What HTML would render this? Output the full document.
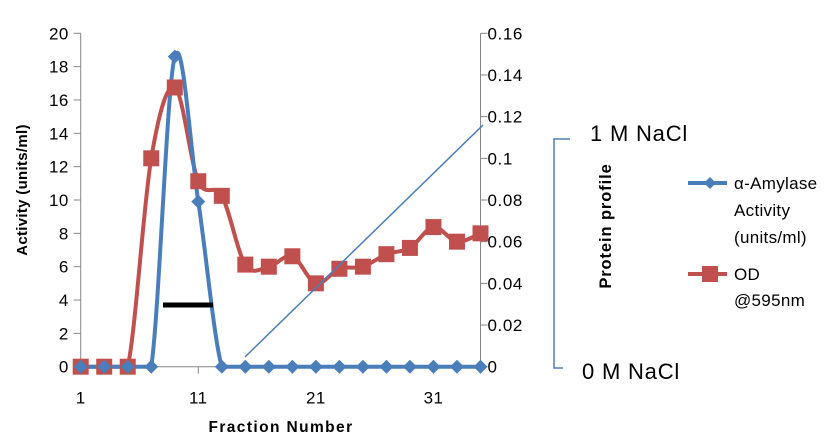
<!DOCTYPE html>
<html><head><meta charset="utf-8"><style>
html,body{margin:0;padding:0;background:#fff;}
svg{display:block;font-family:"Liberation Sans",Calibri,sans-serif;}
</style></head><body>
<svg id="chart" width="836" height="441" viewBox="0 0 836 441" xmlns="http://www.w3.org/2000/svg">
<g id="axes"></g>
<g id="series"></g>
<line x1="163" y1="305" x2="213" y2="305" stroke="#000" stroke-width="5"/>
<line x1="245" y1="357" x2="483" y2="125" stroke="#4a7ebb" stroke-width="1.5"/>
<text transform="translate(27,190) rotate(-90)" text-anchor="middle" font-size="15" font-weight="bold" letter-spacing="0.3">Activity (units/ml)</text>
<text x="281" y="432" text-anchor="middle" font-size="15.5" font-weight="bold" letter-spacing="1.4">Fraction Number</text>
<text transform="translate(611,226) rotate(-90)" text-anchor="middle" font-size="16.5" font-weight="bold" letter-spacing="0.9">Protein profile</text>
<path d="M570,139 H554 V368 H563" fill="none" stroke="#4a7ebb" stroke-width="1.5"/>
<text x="590" y="141" font-size="22" letter-spacing="0.8">1 M NaCl</text>
<text x="582" y="379" font-size="22" letter-spacing="0.8">0 M NaCl</text>
<g>
<line x1="688" y1="183" x2="727" y2="183" stroke="#4a7ebb" stroke-width="4"/>
<path d="M710,177 L716,183 L710,189 L704,183Z" fill="#4a7ebb"/>
<text font-size="17" letter-spacing="0.3"><tspan x="734" y="189">α-Amylase</tspan><tspan x="734" y="216">Activity</tspan><tspan x="734" y="243">(units/ml)</tspan></text>
<line x1="688" y1="274" x2="727" y2="274" stroke="#c0504d" stroke-width="4"/>
<rect x="702" y="266" width="16" height="16" fill="#c0504d"/>
<text font-size="17" letter-spacing="0.3"><tspan x="734" y="280">OD</tspan><tspan x="734" y="306">@595nm</tspan></text>
</g>
</svg>
<script>
const fractions=[1,3,5,7,9,11,13,15,17,19,21,23,25,27,29,31,33,35];
const activity=[0,0,0,0,18.6,9.9,0,0,0,0,0,0,0,0,0,0,0,0];
const od=[0,0,0,0.1,0.134,0.089,0.082,0.049,0.048,0.053,0.040,0.047,0.048,0.054,0.057,0.067,0.060,0.064];
const leftTicks=[0,2,4,6,8,10,12,14,16,18,20];
const rightTicks=[0,0.02,0.04,0.06,0.08,0.1,0.12,0.14,0.16];
const xTickLabels=[1,11,21,31];

const X0=80.7,X1=480.5,Y0=366.7,Y1=33.3;
const xs=f=>X0+(f-1)/34*(X1-X0);
const yL=v=>Y0-v/20*(Y0-Y1);
const yR=v=>Y0-v/0.16*(Y0-Y1);
const NS='http://www.w3.org/2000/svg';
function mk(tag,attrs,parent){const e=document.createElementNS(NS,tag);for(const k in attrs)e.setAttribute(k,attrs[k]);parent.appendChild(e);return e;}
const axes=document.getElementById('axes'),ser=document.getElementById('series');

let e=mk('line',{x1:X0,y1:Y1,x2:X0,y2:Y0,stroke:'#868686'},axes);


e=mk('line',{x1:X1,y1:Y1,x2:X1,y2:Y0,stroke:'#868686'},axes);


e=mk('line',{x1:X0,y1:Y0,x2:X1,y2:Y0,stroke:'#868686'},axes);


leftTicks.forEach(v=>{const y=yL(v);mk('line',{x1:X0-7,y1:y,x2:X0,y2:y,stroke:'#868686'},axes);
 const t=mk('text',{x:X0-12,y:y+6,'text-anchor':'end','font-size':'17','letter-spacing':'0.4'},axes);t.textContent=v;
 
 });
rightTicks.forEach(v=>{const y=yR(v);mk('line',{x1:X1,y1:y,x2:X1+7,y2:y,stroke:'#868686'},axes);
 const t=mk('text',{x:X1+7,y:y+6,'font-size':'17','letter-spacing':'0.6'},axes);t.textContent=v;
 
 });
xTickLabels.forEach(v=>{const x=xs(v);mk('line',{x1:x,y1:Y0,x2:x,y2:Y0+7,stroke:'#868686'},axes);
 const t=mk('text',{x:x,y:Y0+37,'text-anchor':'middle','font-size':'17','letter-spacing':'0.4'},axes);t.textContent=v;
 
 });

function smooth(pts){let d='M'+pts[0][0]+','+pts[0][1];
 const cl=y=>Math.min(y,Y0);
 for(let i=0;i<pts.length-1;i++){const p0=pts[Math.max(i-1,0)],p1=pts[i],p2=pts[i+1],p3=pts[Math.min(i+2,pts.length-1)];
  const c1=[p1[0]+(p2[0]-p0[0])/6,cl(p1[1]+(p2[1]-p0[1])/6)],c2=[p2[0]-(p3[0]-p1[0])/6,cl(p2[1]-(p3[1]-p1[1])/6)];
  d+=' C'+c1+' '+c2+' '+p2;}return d;}

const odPts=fractions.map((f,i)=>[xs(f),yR(od[i])]);
const actPts=fractions.map((f,i)=>[xs(f),yL(activity[i])]);
e=mk('path',{d:smooth(odPts),fill:'none',stroke:'#c0504d','stroke-width':4},ser);


e=mk('path',{d:smooth(actPts),fill:'none',stroke:'#4a7ebb','stroke-width':4},ser);


odPts.forEach(p=>{const r=mk('rect',{x:p[0]-8,y:p[1]-8,width:16,height:16,fill:'#c0504d'},ser);
 
 });
actPts.forEach(p=>{const r=mk('path',{d:`M${p[0]},${p[1]-7} L${p[0]+7},${p[1]} L${p[0]},${p[1]+7} L${p[0]-7},${p[1]}Z`,fill:'#4a7ebb'},ser);
 
 });
</script>
</body></html>
